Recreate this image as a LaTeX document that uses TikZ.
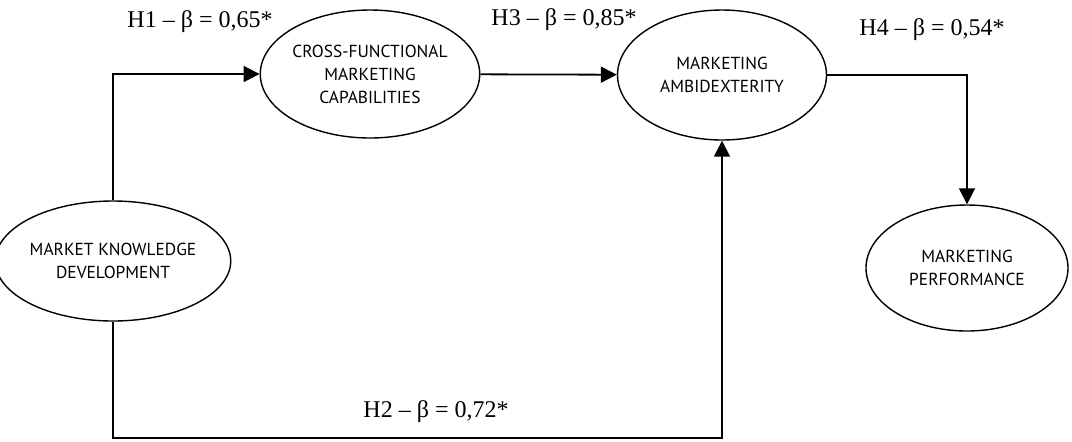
\documentclass[tikz,border=0pt]{standalone}
\usepackage{fontspec}
\setmainfont{Liberation Serif}
\newfontfamily\boxfont{PT Sans}
\usetikzlibrary{shapes.geometric, arrows.meta}

\begin{document}
\begin{tikzpicture}[x=0.5pt, y=-0.5pt]

            \tikzstyle{ovalnode} = [draw, ellipse, line width=0.7pt, text centered, align=center, inner sep=0, font=\boxfont\fontsize{8.7}{11.5}\selectfont];
            \tikzstyle{arrow} = [line width=0.9pt, -{Triangle[length=8pt, width=8pt]}];
            \tikzstyle{coeff} = [font=\fontsize{12}{14}\selectfont];

            \useasboundingbox (0,0) rectangle (1072,441);

            \node[ovalnode, minimum width=107pt, minimum height=60pt] (1) at (113,261) {MARKET KNOWLEDGE\\DEVELOPMENT};
            \node[ovalnode, minimum width=103pt, minimum height=64pt] (2) at (370,74) {CROSS-FUNCTIONAL\\MARKETING\\CAPABILITIES};
            \node[ovalnode, minimum width=104.5pt, minimum height=65pt] (3) at (722,75) {MARKETING\\AMBIDEXTERITY};
            \node[ovalnode, minimum width=101pt, minimum height=63pt] (4) at (967,268) {MARKETING\\PERFORMANCE};

            \coordinate (low) at (0,438);

            \draw [arrow] (1) |- (2);
            \draw [arrow] (2) -- (3);
            \draw [arrow] (3) -| (4);
            \draw [arrow] (1.south) -- (1.south |- low) -| (3.south);

            \node[coeff] (h1) at (200,22) {H1 -- β = 0,65*};
            \node[coeff] (h3) at (564,20) {H3 -- β = 0,85*};
            \node[coeff] (h4) at (932,30) {H4 -- β = 0,54*};
            \node[coeff] (h2) at (436,412) {H2 -- β = 0,72*};

        \end{tikzpicture}
\end{document}
